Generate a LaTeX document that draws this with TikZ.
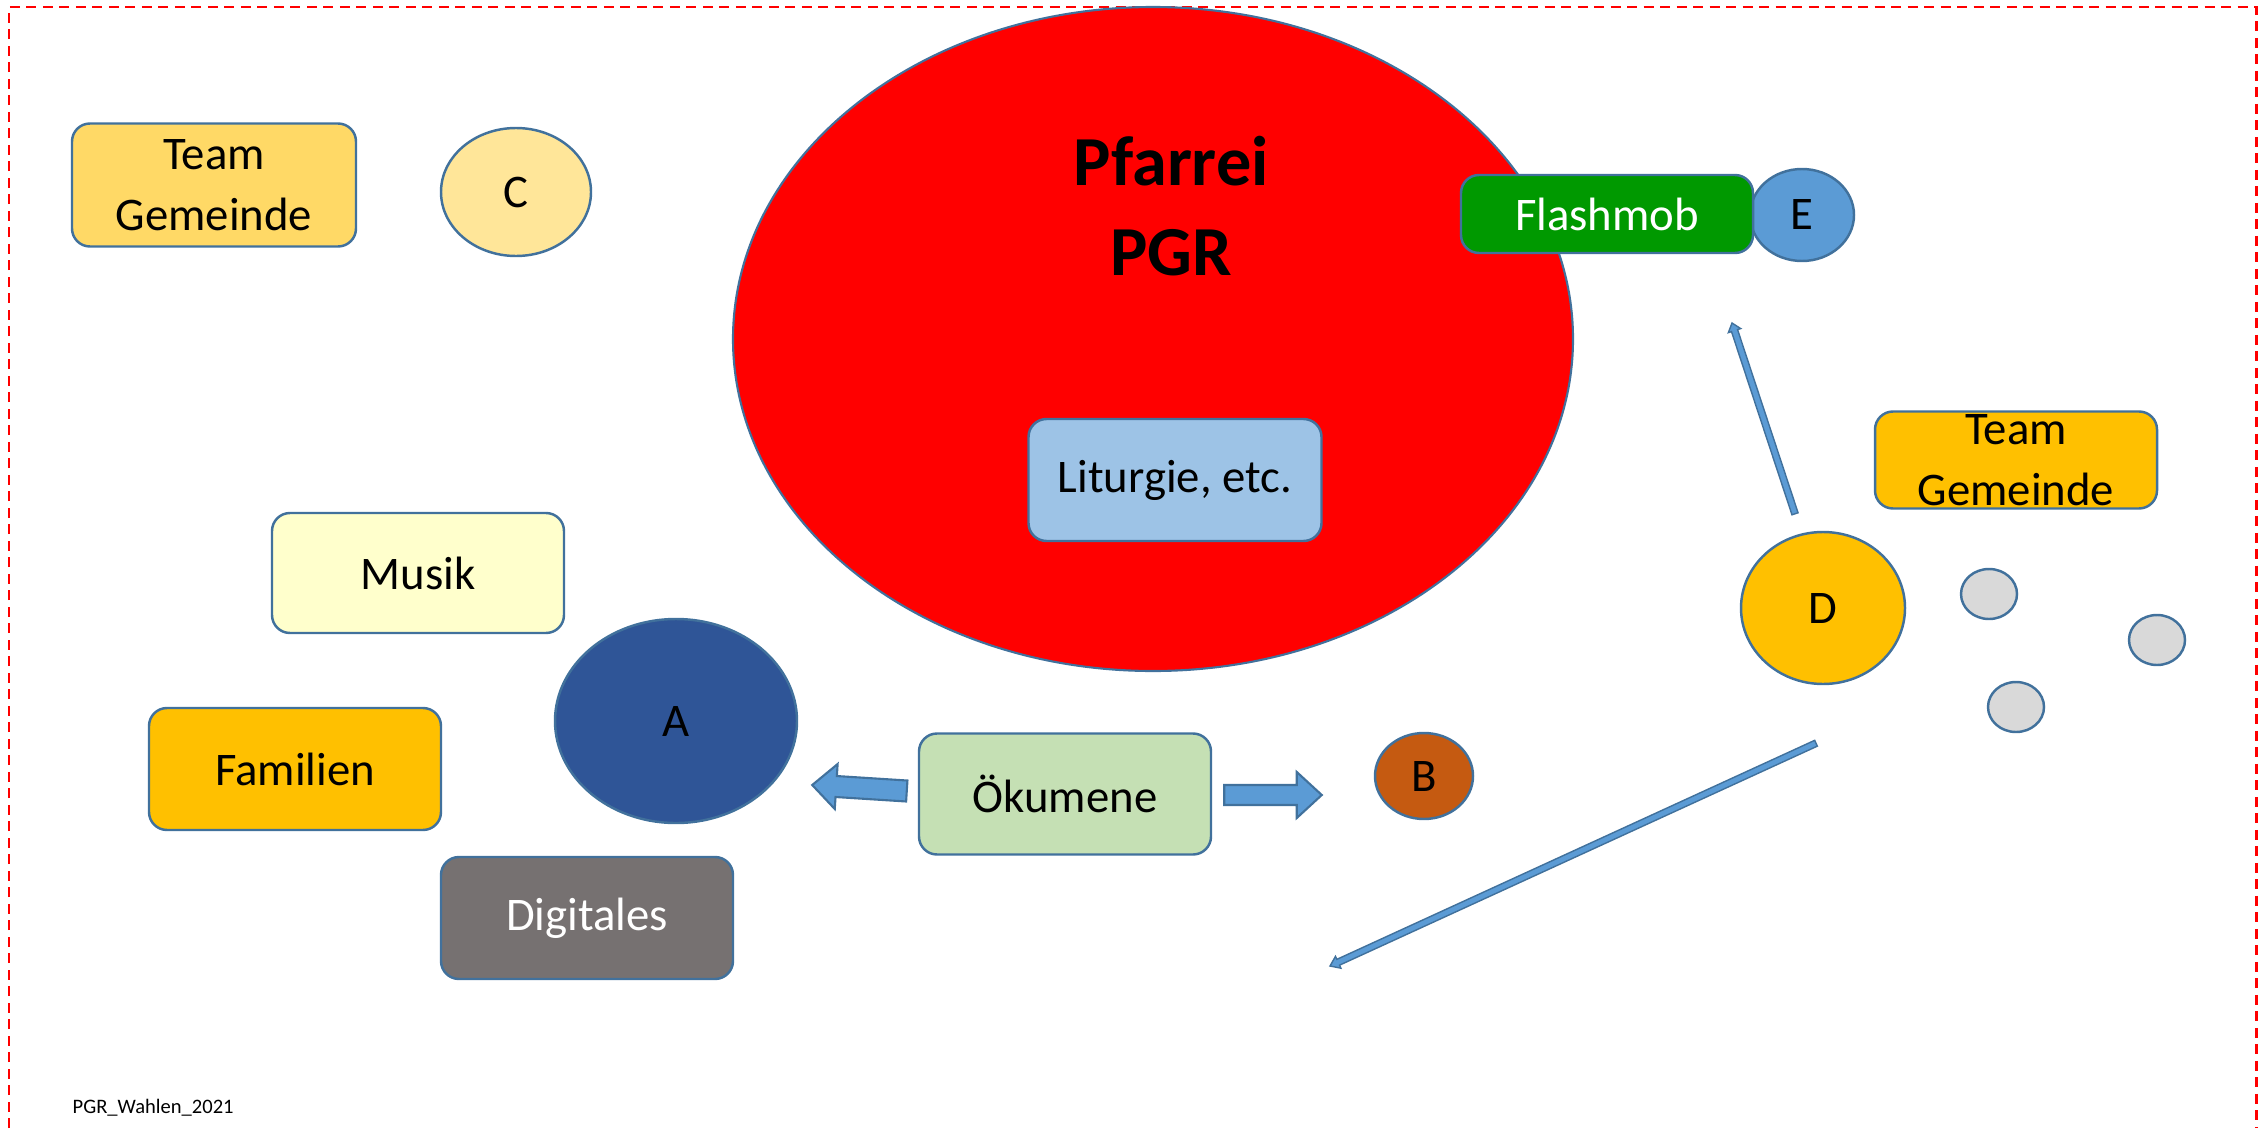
\documentclass[tikz,border=0pt]{standalone}
\usepackage{fontspec}
\setmainfont{Carlito}
\usetikzlibrary{shapes.geometric,calc}

\definecolor{pgrline}{RGB}{65,113,156}
\definecolor{pgrblue}{RGB}{91,155,213}
\definecolor{pgrgold}{RGB}{255,217,102}
\definecolor{pgrpale}{RGB}{255,230,153}
\definecolor{pgrorange}{RGB}{255,192,0}
\definecolor{pgrsky}{RGB}{157,195,230}
\definecolor{pgrgreen}{RGB}{0,153,0}
\definecolor{pgrcream}{RGB}{255,255,204}
\definecolor{pgrnavy}{RGB}{47,85,151}
\definecolor{pgrgrey}{RGB}{118,113,113}
\definecolor{pgrmint}{RGB}{197,224,180}
\definecolor{pgrrust}{RGB}{197,90,17}
\definecolor{pgrdot}{RGB}{217,217,217}

% #2 tail, #3 tip, #4 half shaft, #5 half head, #6 head length
\newcommand{\blockarrow}[6][.6pt]{%
  \coordinate (hb) at ($(#3)!#6!(#2)$);
  \filldraw[fill=pgrblue,draw=pgrline,line width=#1,line join=miter]
    ($(#2)!#4!90:(#3)$) -- ($(hb)!#4!90:(#3)$) -- ($(hb)!#5!90:(#3)$) -- (#3)
    -- ($(hb)!#5!-90:(#3)$) -- ($(hb)!#4!-90:(#3)$) -- ($(#2)!#4!-90:(#3)$) -- cycle;
}

\begin{document}
\begin{tikzpicture}[x=1mm,y=1mm,font=\fontsize{13.3}{17.3}\selectfont,
  box/.style={draw=pgrline,line width=.7pt,rounded corners=1.8mm,
    minimum width=29.2mm,minimum height=12.2mm,inner sep=0pt,align=center},
  blob/.style 2 args={draw=pgrline,line width=.7pt,ellipse,inner sep=0pt,
    minimum width=#1,minimum height=#2}]
\useasboundingbox (0,0) rectangle (226.7,112.8);
\draw[red,line width=.85pt,dash pattern=on 1mm off .65mm]
  (0.9,0) -- (0.9,112.1) -- (225.6,112.1) -- (225.6,0);

% parish in the middle
\node[blob={84mm}{66.4mm},fill=red,line width=.6pt] (pfarrei) at (115.3,78.9) {};
\node[font=\fontsize{20}{25.5}\selectfont\bfseries,align=center] (pgr) at (117.1,92.2) {Pfarrei\\PGR};
\node[box,fill=pgrsky,minimum width=29.3mm] (lit) at (117.5,64.8) {Liturgie, etc.};

% top left
\node[box,fill=pgrgold,minimum width=28.4mm,minimum height=12.3mm] (teaml) at (21.4,94.3) {Team\\Gemeinde};
\node[blob={15mm}{12.8mm},fill=pgrpale] (c) at (51.6,93.6) {C};

% left cluster
\node[box,fill=pgrcream,minimum height=12mm] (musik) at (41.8,55.5) {Musik};
\node[blob={24.2mm}{20.4mm},fill=pgrnavy] (a) at (67.6,40.7) {A};
\node[box,fill=pgrorange] (fam) at (29.5,35.9) {Familien};
\node[box,fill=pgrgrey,text=white] (dig) at (58.7,21.0) {Digitales};
\node[box,fill=pgrmint,minimum height=12.1mm] (oek) at (106.5,33.4) {Ökumene};
\node[blob={9.8mm}{8.6mm},fill=pgrrust] (b) at (142.4,35.2) {B};

% right side
\node[blob={10.4mm}{9.2mm},fill=pgrblue] (e) at (180.2,91.3) {E};
\node[box,fill=pgrgreen,text=white,minimum height=7.8mm] (flash) at (160.7,91.4) {Flashmob};
\node[box,fill=pgrorange,minimum width=28.2mm,minimum height=9.7mm] (teamr) at (201.6,66.8) {Team\\Gemeinde};
\node[blob={16.4mm}{15.2mm},fill=pgrorange] (d) at (182.3,52.0) {D};
\foreach \x/\y [count=\i] in {198.9/53.4,215.7/48.8,201.6/42.1}
  \node[blob={5.6mm}{5mm},fill=pgrdot] (dot\i) at (\x,\y) {};

% arrows
\coordinate (oekl) at ($(oek.west)+(-1.1,0.3)$);
\coordinate (ain) at ($(a.east)+(1.4,-6.4)$);
\coordinate (oekr) at ($(oek.east)+(1.2,-0.1)$);
\coordinate (bin) at ($(b.west)+(-5.2,-1.9)$);
\coordinate (dup) at ($(d.north)+(-2.8,1.7)$);
\coordinate (upend) at (173.2,80.5);
\coordinate (ddown) at ($(d.south)+(-0.7,-5.8)$);
\coordinate (downend) at (133.0,16.2);
\blockarrow{oekl}{ain}{1.05mm}{2.25mm}{2.4mm}
\blockarrow{oekr}{bin}{1mm}{2.3mm}{2.5mm}
\blockarrow[.4pt]{dup}{upend}{.32mm}{.65mm}{.8mm}
\blockarrow[.4pt]{ddown}{downend}{.32mm}{.65mm}{.9mm}

\node[anchor=base west,inner sep=0pt,font=\fontsize{5.85}{7}\selectfont] (foot) at (7.2,1.5) {PGR\_Wahlen\_2021};
\end{tikzpicture}
\end{document}
